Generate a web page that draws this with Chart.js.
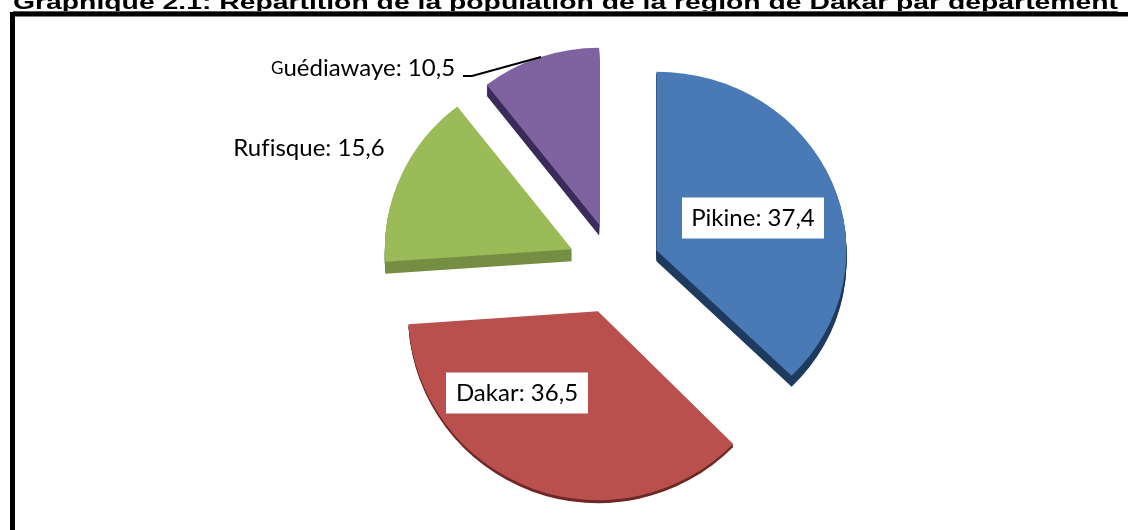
<!DOCTYPE html>
<html><head><meta charset="utf-8">
<style>html,body{margin:0;padding:0;background:#fff}#w{position:relative;width:1128px;height:530px}</style>
<script src="https://cdn.jsdelivr.net/npm/chart.js@4/dist/chart.umd.min.js"></script>
</head><body><div id="w"><canvas id="c" width="1128" height="530"></canvas></div>
<script>
const categories = ['Pikine','Dakar','Rufisque','Guédiawaye'];
const values = [37.4,36.5,15.6,10.5];
const valueLabels = ['37,4','36,5','15,6','10,5'];
const colors = ['#4a7ab5','#b9504d','#9bbb59','#7f63a1'];
const sideColors = ['#1e3a5f','#6d2826','#768e43','#3b2b5a'];
const titleText = 'Graphique 2.1: Répartition de la population de la région de Dakar par département';

const scaleX = [1,1,0.985,0.965];
const scaleY = [0.94,0.995,0.95,0.93];
const depth = [11,3,12,11];
const explode = 46;
const labelBoxes = [[753,218,true],[517,393,true],[309,148,false]];

const pie3d = {
  id:'pie3d',
  beforeDatasetDraw(chart){
    const ctx = chart.ctx, arcs = chart.getDatasetMeta(0).data;
    arcs.forEach((arc,i)=>{
      const mid=(arc.startAngle+arc.endAngle)/2;
      const ax=arc.x+Math.cos(mid)*explode, ay=arc.y+Math.sin(mid)*explode;
      const orig=arc.options;
      const paint=(dy,col)=>{
        ctx.save();
        ctx.translate(ax,ay+dy);ctx.scale(scaleX[i],scaleY[i]);ctx.translate(-arc.x,-arc.y);
        arc.options=Object.assign(Object.create(orig),{backgroundColor:col,borderColor:col,borderWidth:0,offset:0});
        arc.draw(ctx);
        ctx.restore();
      };
      for(let d=depth[i];d>0;d--) paint(d,sideColors[i]);
      paint(0,colors[i]);
      arc.options=orig;
    });
    return false;
  },
  afterDraw(chart){
    const ctx=chart.ctx;
    ctx.save();
    ctx.fillStyle='#000';
    ctx.fillRect(10,12,1118,4.5);
    ctx.fillRect(10,12,5,518);
    ctx.font='bold 20px "Liberation Sans"';
    ctx.textAlign='left';ctx.textBaseline='alphabetic';
    const w=ctx.measureText(titleText).width;
    ctx.save();ctx.translate(13,9);ctx.scale(1105/w,1);
    ctx.fillText(titleText,0,0);
    ctx.restore();
    ctx.fillStyle='#555';ctx.fillRect(13,11,1105,1);
    ctx.letterSpacing='0.01px';
    ctx.font='24px Lato';ctx.textAlign='center';ctx.textBaseline='middle';
    categories.slice(0,3).forEach((c,i)=>{
      const t=c+': '+valueLabels[i], [x,y,box]=labelBoxes[i];
      if(box){ctx.fillStyle='#fff';ctx.fillRect(x-71,y-20.5,142,41);}
      ctx.fillStyle='#000';ctx.fillText(t,x,y);
    });
    ctx.textAlign='left';ctx.fillStyle='#000';
    ctx.font='17px Lato';
    ctx.fillText(categories[3][0],271,69);
    const gw=ctx.measureText(categories[3][0]).width;
    ctx.font='24px Lato';
    ctx.fillText(categories[3].slice(1)+': '+valueLabels[3],271+gw,68);
    ctx.strokeStyle='#000';ctx.lineWidth=2;
    ctx.beginPath();ctx.moveTo(463,76);ctx.lineTo(472,76);ctx.lineTo(541,57);ctx.stroke();
    ctx.restore();
  }
};

new Chart(document.getElementById('c'),{
  type:'pie',
  data:{labels:categories,datasets:[{data:values,backgroundColor:colors,borderWidth:0,offset:explode*4,radius:190}]},
  options:{
    responsive:false,animation:false,
    layout:{padding:{left:100,right:0,top:6,bottom:0}},
    events:[],
    plugins:{legend:{display:false},tooltip:{enabled:false},title:{display:false}}
  },
  plugins:[pie3d]
});
</script></body></html>
